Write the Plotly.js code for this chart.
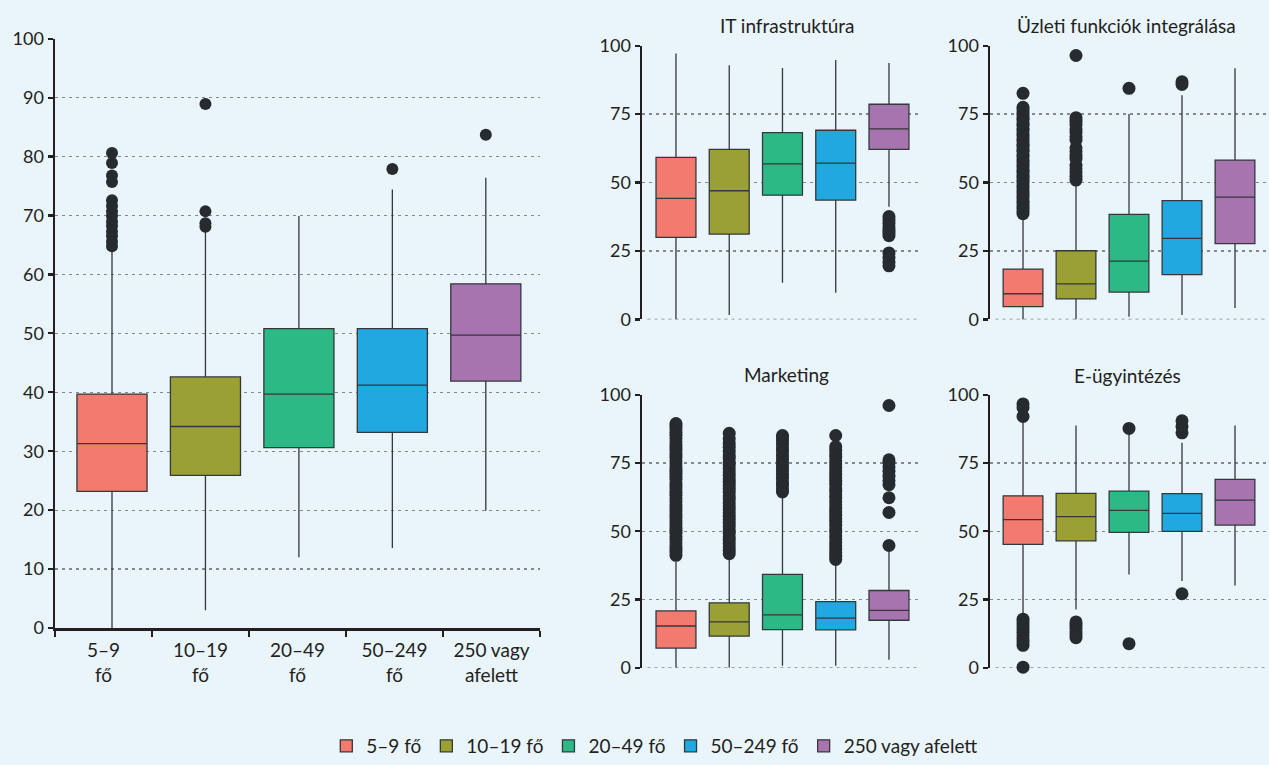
<!DOCTYPE html>
<html>
<head>
<meta charset="utf-8">
<script src="https://cdn.plot.ly/plotly-3.0.1.min.js"></script>
<style>
html,body{margin:0;padding:0;background:#e9f4fb;}
#chart{width:1269px;height:765px;}
</style>
</head>
<body>
<div id="chart"></div>
<script>
// ---------- DATA ----------
const groups = ["5–9 fő", "10–19 fő", "20–49 fő", "50–249 fő", "250 vagy afelett"];
const groupTickLabels = ["5–9<br>fő", "10–19<br>fő", "20–49<br>fő", "50–249<br>fő", "250 vagy<br>afelett"];
const colors = ["#f37a6f", "#9aa033", "#2db985", "#22a8e0", "#a774b0"];
const panelTitles = ["IT infrastruktúra", "Üzleti funkciók integrálása", "Marketing", "E-ügyintézés"];

// Overall (left panel)
const all_q1     = [23.2, 25.9, 30.6, 33.2, 41.9];
const all_median = [31.3, 34.2, 39.7, 41.2, 49.7];
const all_q3     = [39.7, 42.6, 50.8, 50.8, 58.4];
const all_low    = [0.0, 3.0, 12.0, 13.6, 19.9];
const all_high   = [64.2, 67.3, 69.9, 74.4, 76.4];
const all_out = [
  [64.8, 65.6, 66.5, 67.3, 68.2, 69.0, 69.9, 70.7, 71.6, 72.6, 75.7, 76.8, 78.9, 80.6],
  [68.1, 68.7, 70.7, 88.9],
  [],
  [77.9],
  [83.7]
];

// IT infrastruktúra
const it_q1     = [30.0, 31.2, 45.4, 43.6, 62.1];
const it_median = [44.2, 47.0, 56.8, 57.1, 69.6];
const it_q3     = [59.2, 62.1, 68.2, 69.1, 78.6];
const it_low    = [0.0, 1.6, 13.4, 9.8, 41.2];
const it_high   = [97.1, 92.8, 91.8, 94.8, 93.7];
const it_out = [
  [], [], [], [],
  [37.6, 36.3, 35.1, 33.9, 32.6, 31.5, 30.6, 24.3, 22.6, 20.9, 19.6]
];

// Üzleti funkciók integrálása
const uz_q1     = [4.7, 7.5, 10.0, 16.4, 27.7];
const uz_median = [9.4, 13.0, 21.3, 29.6, 44.7];
const uz_q3     = [18.4, 25.1, 38.4, 43.4, 58.2];
const uz_low    = [0.0, 0.0, 1.0, 1.6, 4.2];
const uz_high   = [36.4, 49.9, 75.0, 81.9, 91.7];
const uz_out = [
  [38.6, 39.5, 40.6, 41.4, 42.5, 43.3, 44.4, 45.1, 46.2, 47.0, 48.1, 48.9, 50.0, 50.8, 51.9,
   52.6, 53.8, 54.5, 55.7, 56.4, 57.5, 58.3, 59.5, 60.2, 61.4, 62.1, 63.3, 64.0, 65.2, 65.9,
   67.1, 67.8, 69.0, 69.7, 70.9, 71.6, 72.8, 73.5, 74.7, 75.4, 76.6, 77.5, 82.6],
  [50.9, 52.3, 53.7, 55.0, 56.3, 58.6, 59.9, 61.3, 62.7, 65.5, 66.8, 68.3, 69.6, 71.0, 72.4, 73.7, 96.4],
  [84.4],
  [85.8, 86.8],
  []
];

// Marketing
const mk_q1     = [7.2, 11.6, 14.0, 13.9, 17.4];
const mk_median = [15.3, 16.8, 19.4, 18.2, 21.0];
const mk_q3     = [20.8, 23.8, 34.2, 24.2, 28.3];
const mk_low    = [0.0, 0.0, 0.7, 0.7, 2.9];
const mk_high   = [38.8, 39.7, 62.3, 37.8, 42.4];
const mk_out = [
  [41.2, 42.4, 43.5, 44.7, 45.8, 47.0, 48.1, 49.3, 50.4, 51.6, 52.8, 53.9, 55.1, 56.2, 57.4,
   58.5, 59.7, 60.9, 62.0, 63.2, 64.3, 65.5, 66.6, 67.8, 69.0, 70.1, 71.3, 72.4, 73.6, 74.7,
   75.9, 77.1, 78.2, 79.4, 80.5, 81.7, 82.8, 84.0, 85.2, 86.3, 87.5, 88.6, 89.5],
  [41.8, 43.0, 44.3, 45.5, 46.8, 48.0, 49.3, 50.5, 51.8, 53.0, 54.3, 55.5, 56.8, 58.0, 59.3,
   60.5, 61.8, 63.0, 64.3, 65.5, 66.8, 68.0, 69.3, 70.5, 71.8, 73.0, 74.3, 75.5, 76.8, 78.0,
   79.3, 80.8, 82.2, 84.0, 85.9],
  [64.4, 65.6, 66.9, 68.1, 69.4, 70.6, 71.9, 73.1, 74.4, 75.6, 76.9, 78.1, 79.4, 80.6, 81.9, 83.1, 84.4, 85.1],
  [39.7, 40.9, 42.2, 43.4, 44.7, 45.9, 47.2, 48.4, 49.7, 50.9, 52.2, 53.4, 54.7, 55.9, 57.2,
   58.4, 59.7, 60.9, 62.2, 63.4, 64.7, 65.9, 67.2, 68.4, 69.7, 70.9, 72.2, 73.4, 74.7, 75.9,
   77.2, 78.4, 79.7, 81.0, 85.1],
  [44.8, 56.9, 62.3, 67.1, 68.6, 70.2, 72.0, 73.6, 75.0, 76.2, 96.1]
];

// E-ügyintézés
const eu_q1     = [45.2, 46.5, 49.6, 50.0, 52.3];
const eu_median = [54.3, 55.4, 57.7, 56.6, 61.4];
const eu_q3     = [63.0, 63.9, 64.7, 63.8, 69.0];
const eu_low    = [18.8, 21.3, 34.2, 31.8, 30.1];
const eu_high   = [90.5, 88.8, 85.6, 82.5, 88.8];
const eu_out = [
  [96.7, 95.3, 92.1, 17.8, 16.6, 15.4, 14.2, 13.0, 11.8, 10.6, 9.4, 8.2, 0.2],
  [16.8, 15.6, 14.4, 13.2, 12.0, 11.0],
  [87.7, 8.8],
  [90.5, 88.4, 86.1, 27.1],
  []
];

// ---------- BUILD ----------
const TXT = "#231f20";
const GRID = "#85898c";
const FONT = "Lato, 'Open Sans', sans-serif";
const W = 1269, H = 765;
const px = v => v / W;
const py = v => 1 - v / H;

const panels = [
  {xa: "x",  ya: "y",  q1: all_q1, med: all_median, q3: all_q3, lo: all_low, hi: all_high, out: all_out, bw: 0.75, ms: 12},
  {xa: "x3", ya: "y3", q1: it_q1,  med: it_median,  q3: it_q3,  lo: it_low,  hi: it_high,  out: it_out,  bw: 0.75, ms: 13},
  {xa: "x4", ya: "y4", q1: uz_q1,  med: uz_median,  q3: uz_q3,  lo: uz_low,  hi: uz_high,  out: uz_out,  bw: 0.75, ms: 13},
  {xa: "x5", ya: "y5", q1: mk_q1,  med: mk_median,  q3: mk_q3,  lo: mk_low,  hi: mk_high,  out: mk_out,  bw: 0.75, ms: 13},
  {xa: "x6", ya: "y6", q1: eu_q1,  med: eu_median,  q3: eu_q3,  lo: eu_low,  hi: eu_high,  out: eu_out,  bw: 0.75, ms: 13}
];

const traces = [];
panels.forEach((p, pi) => {
  groups.forEach((g, i) => {
    traces.push({
      type: "box", name: g, legendgroup: g, showlegend: pi === 0,
      x: [g], q1: [p.q1[i]], median: [p.med[i]], q3: [p.q3[i]],
      lowerfence: [p.lo[i]], upperfence: [p.hi[i]],
      fillcolor: colors[i], line: {color: "#33383b", width: 1.3},
      whiskerwidth: 0, width: p.bw, boxpoints: false,
      xaxis: p.xa, yaxis: p.ya, hoverinfo: "skip"
    });
  });
  groups.forEach((g, i) => {
    const ys = p.out[i];
    if (!ys.length) return;
    traces.push({
      type: "scatter", mode: "markers", showlegend: false,
      x: ys.map(() => g), y: ys,
      marker: {color: "#262b2f", size: p.ms, line: {width: 0}},
      cliponaxis: false, xaxis: p.xa, yaxis: p.ya, hoverinfo: "skip"
    });
  });
});
// invisible trace carrying the left panel's category labels
traces.push({
  type: "scatter", mode: "markers", x: groupTickLabels, y: groups.map(() => 0),
  marker: {opacity: 0}, showlegend: false, hoverinfo: "skip", xaxis: "x2", yaxis: "y"
});

function yax(domain, dtick, extra) {
  return Object.assign({
    domain: domain, range: [0, 100], dtick: dtick, tick0: 0,
    showline: true, linecolor: TXT, linewidth: 2.5,
    ticks: "outside", ticklen: 5, tickwidth: 2.2, tickcolor: TXT,
    tickfont: {size: 18, color: TXT, family: FONT},
    showgrid: true, gridcolor: GRID, gridwidth: 1.3, griddash: "3px,4px",
    zeroline: false, fixedrange: true
  }, extra || {});
}
function xax(domain, range, anchor) {
  return {
    domain: domain, range: range, anchor: anchor, type: "category",
    categoryorder: "array", categoryarray: groups,
    showline: false, showgrid: false, zeroline: false, showticklabels: false, ticks: "",
    fixedrange: true
  };
}

const topD = [py(322), py(46)];
const botD = [py(673), py(398)];
const col1 = [px(642), px(918)];
const col2 = [px(990), px(1266)];

// baseline (value 0) grid line for the four small panels
const zeroShapes = ["3", "4", "5", "6"].map(n => ({
  type: "line", xref: "x" + n + " domain", yref: "y" + n,
  x0: 0.02, x1: 1, y0: 0, y1: 0, layer: "below",
  line: {color: GRID, width: 1.3, dash: "3px,4px"}
}));

const layout = {
  width: W, height: H,
  margin: {l: 0, r: 0, t: 0, b: 0},
  paper_bgcolor: "#e9f4fb", plot_bgcolor: "#e9f4fb",
  font: {family: FONT, color: TXT, size: 19},
  showlegend: true,
  boxmode: "overlay",
  legend: {
    orientation: "h", x: 0.516, xanchor: "center", y: py(752), yanchor: "middle",
    font: {size: 19, color: TXT, family: FONT}, bgcolor: "rgba(0,0,0,0)",
    traceorder: "normal", itemwidth: 30
  },
  xaxis: xax([px(55), px(540)], [-0.61, 4.58], "y"),
  xaxis2: {
    overlaying: "x", anchor: "y", type: "category", range: [-0.5, 4.5],
    categoryorder: "array", categoryarray: groupTickLabels,
    tickson: "boundaries", ticks: "outside", ticklen: 6, tickwidth: 2.2, tickcolor: TXT,
    showline: true, linecolor: TXT, linewidth: 2.5,
    showgrid: false, zeroline: false, ticklabelstandoff: 4,
    tickfont: {size: 19, color: TXT, family: FONT}, fixedrange: true
  },
  yaxis: yax([py(633), py(39)], 10),
  xaxis3: xax(col1, [-0.638, 4.545], "y3"),
  yaxis3: yax(topD, 25, {anchor: "x3"}),
  xaxis4: xax(col2, [-0.623, 4.585], "y4"),
  yaxis4: yax(topD, 25, {anchor: "x4"}),
  xaxis5: xax(col1, [-0.638, 4.545], "y5"),
  yaxis5: yax(botD, 25, {anchor: "x5"}),
  xaxis6: xax(col2, [-0.623, 4.585], "y6"),
  yaxis6: yax(botD, 25, {anchor: "x6"}),
  shapes: zeroShapes,
  annotations: [
    {text: panelTitles[0], x: px(787), y: py(26)},
    {text: panelTitles[1], x: px(1126), y: py(26)},
    {text: panelTitles[2], x: px(786), y: py(377)},
    {text: panelTitles[3], x: px(1127), y: py(378)}
  ].map(a => Object.assign(a, {
    xref: "paper", yref: "paper", xanchor: "center", yanchor: "middle",
    showarrow: false, font: {size: 19, color: TXT, family: FONT}
  }))
};

Plotly.newPlot("chart", traces, layout, {displayModeBar: false, staticPlot: true});
</script>
</body>
</html>
